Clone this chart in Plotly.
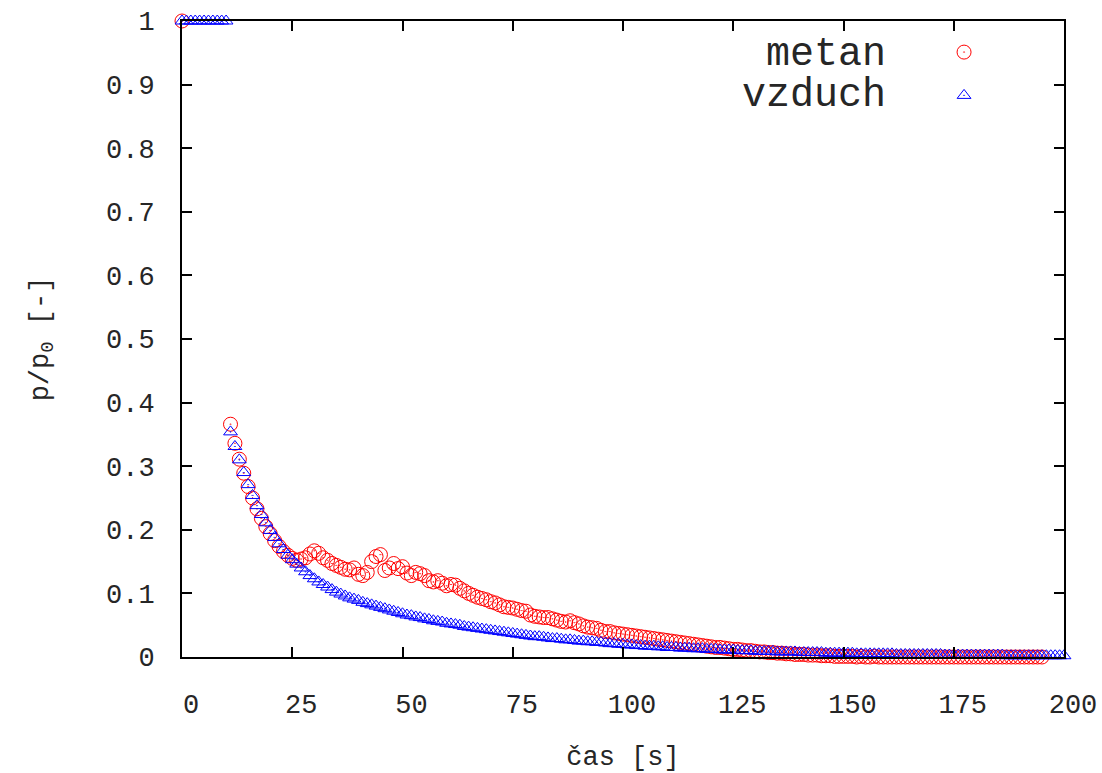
import plotly.graph_objects as go

# ---- data ----
t_vzduch = list(range(0, 11)) + list(range(11, 201))
p_vzduch = [1.0] * 11 + [
    0.354, 0.331, 0.310, 0.290, 0.271, 0.254, 0.238, 0.224, 0.211, 0.199,   # 11-20
    0.188, 0.178, 0.169, 0.160, 0.153, 0.146, 0.140, 0.134, 0.128, 0.123,   # 21-30
    0.118, 0.114, 0.110, 0.106, 0.102, 0.099, 0.096, 0.093, 0.091, 0.089,   # 31-40
    0.086, 0.084, 0.082, 0.080, 0.078, 0.076, 0.074, 0.072, 0.070, 0.068,   # 41-50
    0.066, 0.065, 0.063, 0.062, 0.060, 0.059, 0.057, 0.056, 0.055, 0.053,   # 51-60
    0.052, 0.051, 0.050, 0.048, 0.047, 0.046, 0.045, 0.044, 0.043, 0.042,   # 61-70
    0.041, 0.040, 0.039, 0.038, 0.037, 0.036, 0.035, 0.034, 0.033, 0.032,   # 71-80
    0.032, 0.031, 0.030, 0.029, 0.029, 0.028, 0.027, 0.027, 0.026, 0.025,   # 81-90
    0.025, 0.024, 0.024, 0.023, 0.023, 0.022, 0.021, 0.021, 0.020, 0.020,   # 91-100
    0.019, 0.019, 0.018, 0.018, 0.017, 0.017, 0.017, 0.016, 0.016, 0.015,   # 101-110
    0.015, 0.015, 0.014, 0.014, 0.014, 0.013, 0.013, 0.013, 0.012, 0.012,   # 111-120
    0.012, 0.011, 0.011, 0.011, 0.011, 0.010, 0.010, 0.010, 0.010, 0.009,   # 121-130
    0.009, 0.009, 0.009, 0.009, 0.008, 0.008, 0.008, 0.008, 0.008, 0.007,   # 131-140
    0.007, 0.007, 0.007, 0.007, 0.007, 0.006, 0.006, 0.006, 0.006, 0.006,   # 141-150
    0.006, 0.006, 0.005, 0.005, 0.005, 0.005, 0.005, 0.005, 0.005, 0.005,   # 151-160
    0.005, 0.004, 0.004, 0.004, 0.004, 0.004, 0.004, 0.004, 0.004, 0.004,   # 161-170
    0.004, 0.004, 0.003, 0.003, 0.003, 0.003, 0.003, 0.003, 0.003, 0.003,   # 171-180
    0.003, 0.003, 0.003, 0.003, 0.003, 0.003, 0.002, 0.002, 0.002, 0.002,   # 181-190
    0.002, 0.002, 0.002, 0.002, 0.002, 0.002, 0.002, 0.002, 0.002, 0.002,   # 191-200
]

t_metan = [0] + list(range(11, 196))
p_metan = [1.0] + [
    0.366, 0.336, 0.311, 0.289, 0.268, 0.250, 0.233, 0.218, 0.205, 0.194,   # 11-20
    0.183, 0.174, 0.166, 0.160, 0.155, 0.152, 0.154, 0.156, 0.162, 0.167,   # 21-30
    0.163, 0.156, 0.152, 0.147, 0.144, 0.141, 0.138, 0.137, 0.140, 0.130,   # 31-40
    0.128, 0.133, 0.150, 0.158, 0.161, 0.136, 0.140, 0.147, 0.139, 0.142,   # 41-50
    0.132, 0.128, 0.133, 0.131, 0.128, 0.120, 0.118, 0.120, 0.116, 0.112,   # 51-60
    0.114, 0.113, 0.108, 0.104, 0.100, 0.097, 0.094, 0.092, 0.090, 0.087,   # 61-70
    0.085, 0.082, 0.079, 0.078, 0.077, 0.075, 0.073, 0.072, 0.066, 0.064,   # 71-80
    0.063, 0.062, 0.062, 0.060, 0.058, 0.056, 0.055, 0.057, 0.054, 0.052,   # 81-90
    0.049, 0.047, 0.046, 0.045, 0.042, 0.040, 0.040, 0.038, 0.037, 0.036,   # 91-100
    0.035, 0.034, 0.033, 0.032, 0.031, 0.030, 0.029, 0.028, 0.027, 0.026,   # 101-110
    0.025, 0.024, 0.023, 0.022, 0.021, 0.020, 0.019, 0.018, 0.017, 0.016,   # 111-120
    0.015, 0.015, 0.014, 0.013, 0.012, 0.012, 0.011, 0.010, 0.010, 0.009,   # 121-130
    0.008, 0.008, 0.007, 0.007, 0.006, 0.006, 0.005, 0.005, 0.004, 0.004,   # 131-140
    0.004, 0.003, 0.003, 0.003, 0.002, 0.002, 0.002, 0.001, 0.001, 0.001,   # 141-150
    0.001, 0.001, 0.000, 0.001, 0.000, 0.000, 0.001, 0.000, 0.000, 0.000,   # 151-160
    0.000, 0.000, 0.000, 0.000, 0.000, 0.000, 0.000, 0.000, 0.000, 0.000,   # 161-170
    0.000, 0.000, 0.000, 0.000, 0.000, 0.000, 0.000, 0.000, 0.000, 0.000,   # 171-180
    0.000, 0.000, 0.000, 0.000, 0.000, 0.000, 0.000, 0.000, 0.000, 0.000,   # 181-190
    0.000, 0.000, 0.000, 0.000, 0.000,                                      # 191-195
]

x_ticks = [0, 25, 50, 75, 100, 125, 150, 175, 200]
y_ticks = [0, 0.1, 0.2, 0.3, 0.4, 0.5, 0.6, 0.7, 0.8, 0.9, 1]
y_tick_text = ["0", "0.1", "0.2", "0.3", "0.4", "0.5", "0.6", "0.7", "0.8", "0.9", "1"]
series_names = ["metan", "vzduch"]

FONT = "Liberation Mono, Courier New, monospace"
TXT = "#262626"
RED = "#ff0000"
BLUE = "#0000ff"

metan_marker = dict(symbol="circle-open-dot", size=14, color=RED, line=dict(width=1, color=RED))
vzduch_marker = dict(symbol="triangle-up-open-dot", size=12, color=BLUE, line=dict(width=1, color=BLUE))

fig = go.Figure()
fig.add_trace(go.Scatter(x=t_metan, y=p_metan, mode="markers", name=series_names[0],
                         marker=metan_marker, cliponaxis=False, showlegend=False))
fig.add_trace(go.Scatter(x=t_vzduch, y=p_vzduch, mode="markers", name=series_names[1],
                         marker=vzduch_marker, cliponaxis=False, showlegend=False))
# legend symbols (gnuplot style: text left, symbol right)
fig.add_trace(go.Scatter(x=[None], y=[None], mode="markers", name=" ",
                         marker=metan_marker, showlegend=True))
fig.add_trace(go.Scatter(x=[None], y=[None], mode="markers", name=" ",
                         marker=vzduch_marker, showlegend=True))

fig.update_layout(
    width=1102, height=773,
    margin=dict(l=182, r=38, t=21, b=116, autoexpand=False),
    paper_bgcolor="white", plot_bgcolor="white",
    font=dict(family=FONT, size=27, color=TXT),
    legend=dict(x=0.864, y=0.993, xanchor="left", yanchor="top",
                font=dict(size=31), bgcolor="rgba(0,0,0,0)", tracegroupgap=0),
    annotations=[
        dict(text=series_names[0], xref="paper", yref="paper", x=0.801, y=0.947,
             xanchor="right", yanchor="middle", showarrow=False,
             font=dict(family=FONT, size=40, color=TXT)),
        dict(text=series_names[1], xref="paper", yref="paper", x=0.801, y=0.883,
             xanchor="right", yanchor="middle", showarrow=False,
             font=dict(family=FONT, size=40, color=TXT)),
    ],
)

fig.update_xaxes(
    range=[0, 200], tickvals=x_ticks, ticktext=[str(v) for v in x_ticks],
    showgrid=False, zeroline=False, automargin=False,
    showline=True, linecolor="black", linewidth=2, mirror="ticks",
    ticks="inside", ticklen=10, tickwidth=1.5, tickcolor="black",
    ticklabelstandoff=22, ticklabelshift=9,
    title=dict(text="čas [s]", standoff=36, font=dict(size=27)),
)
fig.update_yaxes(
    range=[0, 1], tickvals=y_ticks, ticktext=y_tick_text,
    showgrid=False, zeroline=False, automargin=False,
    showline=True, linecolor="black", linewidth=2, mirror="ticks",
    ticks="inside", ticklen=10, tickwidth=1.5, tickcolor="black",
    ticklabelstandoff=20,
    title=dict(text="p/p<sub>0</sub> [-]", standoff=50, font=dict(size=27)),
)

fig.write_html("out.html")
